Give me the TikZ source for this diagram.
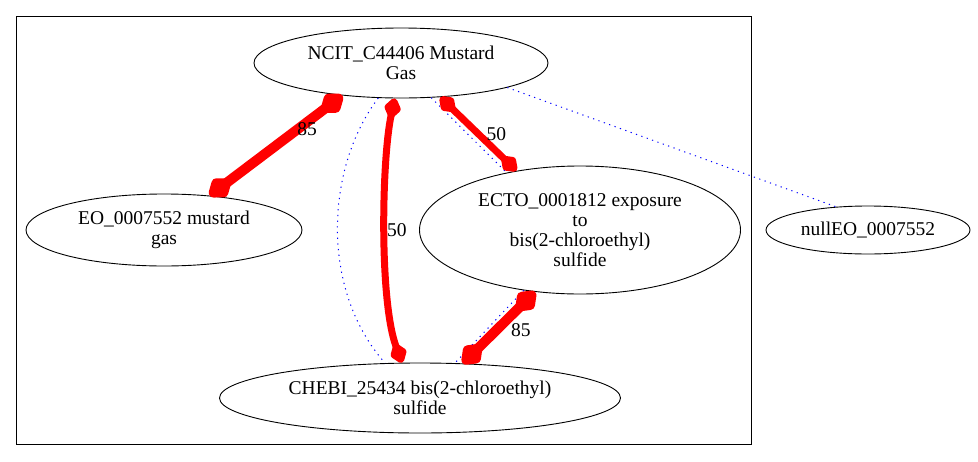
\documentclass[tikz,border=0pt]{standalone}
\usepackage{fontspec}
\setmainfont{Liberation Serif}
\usetikzlibrary{shapes.geometric,arrows.meta}

\begin{document}
\begin{tikzpicture}[x=1pt,y=-1pt,
    term/.style={ellipse,draw,line width=0.9pt,inner sep=0pt,align=center,font=\rmfamily\fontsize{19.5}{20}\selectfont},
    heavy/.style={red,line width=10pt,arrows={Diamond[length=32pt,width=24pt,round]-Diamond[length=32pt,width=24pt,round]}},
    light/.style={red,line width=7pt,arrows={Diamond[length=25pt,width=18pt,round]-Diamond[length=25pt,width=18pt,round]}},
    xref/.style={blue,line width=1pt,dash pattern=on 1.2pt off 4.5pt},
    weight/.style={text=black,font=\rmfamily\fontsize{19.5}{20}\selectfont}]
  \useasboundingbox (0,0) rectangle (978,461);

  % Cluster frame
  \draw[line width=0.9pt] (16,16) rectangle (751,444);

  % Terms
  \node[term,minimum width=294pt,minimum height=70pt] (ncit) at (401,63) {NCIT\_C44406 Mustard\\Gas};
  \node[term,minimum width=276pt,minimum height=72pt] (eo) at (164,230) {EO\_0007552 mustard\\gas};
  \node[term,minimum width=321pt,minimum height=128pt] (ecto) at (580,230) {ECTO\_0001812 exposure\\to\\bis(2-chloroethyl)\\sulfide};
  \node[term,minimum width=401pt,minimum height=70pt] (chebi) at (420,398) {CHEBI\_25434 bis(2-chloroethyl)\\sulfide};
  \node[term,minimum width=204pt,minimum height=48pt] (null) at (868,230) {nullEO\_0007552};

  % Dotted cross references
  \draw[xref] (ncit.237) .. controls +(-53,70) and +(-65,-73) .. (chebi.135);
  \draw[xref] (ncit.311) -- (ecto.142);
  \draw[xref] (ecto.227) -- (chebi.45);
  \draw[xref] (ncit.347) -- (null.144);

  % Weighted links
  \draw[heavy] (ncit.209) -- (eo.37) node[weight,midway,xshift=31pt,yshift=16pt]{85};
  \draw[light] (ncit.260) .. controls +(-13,60) and +(-23,-62) .. (chebi.117) node[weight,pos=0.5,xshift=12pt]{50};
  \draw[light] (ncit.319) -- (ecto.137) node[weight,midway,xshift=18pt]{50};
  \draw[heavy] (ecto.234) -- (chebi.39) node[weight,midway,xshift=22pt,yshift=-2pt]{85};
\end{tikzpicture}
\end{document}
